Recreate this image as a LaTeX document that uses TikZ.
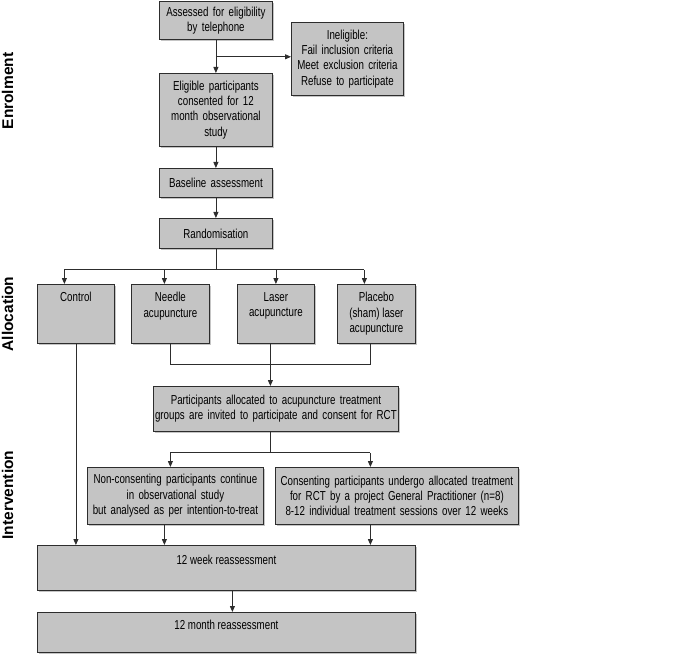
\documentclass[tikz,border=0pt]{standalone}
\usepackage{fontspec}
\setmainfont{Liberation Sans}[FakeStretch=0.75]
\newfontfamily\sidefont{Liberation Sans}
\usepackage{tikz}
\usetikzlibrary{arrows.meta,
	positioning,
	shadows}

\definecolor{boxfill}{RGB}{196,196,196}
\definecolor{boxline}{RGB}{45,45,45}
\newcommand{\toptext}[4][8]{\parbox[c][#2pt][t]{#3pt}{\centering\vspace*{#1pt}#4}}

\tikzset{
	flowbox/.style={draw=boxline, fill=boxfill, line width=0.8pt, inner sep=0pt,
		anchor=north west, align=center, font=\fontsize{13}{15.3}\selectfont,
		drop shadow={shadow xshift=2pt, shadow yshift=-2pt, fill=black!45, opacity=0.5}},
	arr/.style={draw=boxline, line width=0.8pt, -{Triangle[length=6pt,width=5pt]}},
	link/.style={draw=boxline, line width=0.8pt},
	phase/.style={rotate=90, font=\sidefont\bfseries\fontsize{15.5}{18}\selectfont}
}

\begin{document}
\begin{tikzpicture}[x=1pt,y=-1pt]
	\useasboundingbox (0,0) rectangle (685,655);

	% phases
	\node[phase] (enrol) at (7.5,91) {Enrolment};
	\node[phase] (alloc) at (7.5,314) {Allocation};
	\node[phase] (interv) at (7.5,495) {Intervention};

	% enrolment
	\node[flowbox, minimum width=113pt, minimum height=38pt, text width=113pt] (assess) at (159,1) {Assessed for eligibility\\by telephone};
	\node[flowbox, minimum width=112pt, minimum height=73pt, text width=112pt] (inelig) at (291,22) {Ineligible:\\Fail inclusion criteria\\Meet exclusion criteria\\Refuse to participate};
	\node[flowbox, minimum width=113pt, minimum height=73pt, text width=113pt] (elig) at (159,73) {Eligible participants\\consented for 12\\month observational\\study};
	\node[flowbox, minimum width=113pt, minimum height=29pt, text width=113pt] (base) at (159,168) {Baseline assessment};
	\node[flowbox, minimum width=113pt, minimum height=30pt, text width=113pt] (rand) at (159,218) {Randomisation};

	% allocation
	\node[flowbox, minimum width=77pt, minimum height=59pt] (ctrl) at (37,284) {\toptext{59}{77}{Control}};
	\node[flowbox, minimum width=78pt, minimum height=59pt] (needle) at (131,284) {\toptext{59}{78}{Needle\\acupuncture}};
	\node[flowbox, minimum width=77pt, minimum height=59pt] (laser) at (237,284) {\toptext{59}{77}{Laser\\acupuncture}};
	\node[flowbox, minimum width=78pt, minimum height=59pt] (placebo) at (337,284) {\toptext{59}{78}{Placebo\\(sham) laser\\acupuncture}};
	\node[flowbox, minimum width=245pt, minimum height=45pt, text width=245pt] (partic) at (153,386) {Participants allocated to acupuncture treatment\\groups are invited to participate and consent for RCT};

	% intervention
	\node[flowbox, minimum width=176pt, minimum height=57pt, text width=176pt] (noncons) at (87,467) {Non-consenting participants continue\\in observational study\\but analysed as per intention-to-treat};
	\node[flowbox, minimum width=243pt, minimum height=57pt, text width=243pt] (cons) at (275,467) {Consenting participants undergo allocated treatment\\for RCT by a project General Practitioner (n=8)\\8-12 individual treatment sessions over 12 weeks};
	\node[flowbox, minimum width=378pt, minimum height=45pt] (week) at (37,545) {\toptext[10]{45}{378}{12 week reassessment}};
	\node[flowbox, minimum width=378pt, minimum height=40pt] (month) at (37,612) {\toptext[8]{40}{378}{12 month reassessment}};

	% enrolment links
	\draw[arr] (assess) -- (elig);
	\coordinate (esplit) at ([yshift=-17pt]assess.south);
	\draw[arr] (esplit) -- (esplit -| inelig.west);
	\draw[arr] (elig) -- (base);
	\draw[arr] (base) -- (rand);

	% randomisation split
	\coordinate (rsplit) at ([yshift=-21pt]rand.south);
	\coordinate (cin) at ([xshift=-11.5pt]ctrl.north);
	\coordinate (nin) at ([xshift=-6pt]needle.north);
	\coordinate (lin) at (laser.north);
	\coordinate (pin) at ([xshift=-12pt]placebo.north);
	\draw[link] (rand) -- (rsplit);
	\draw[link] (cin |- rsplit) -- (pin |- rsplit);
	\foreach \n in {cin,nin,lin,pin}
		\draw[arr] (\n |- rsplit) -- (\n);

	% join of acupuncture groups
	\coordinate (ajoin) at ([yshift=-21pt]laser.south);
	\coordinate (nout) at (needle.south);
	\coordinate (lout) at ([xshift=-5.5pt]laser.south);
	\coordinate (pout) at ([xshift=-6pt]placebo.south);
	\draw[link] (nout) -- (nout |- ajoin) -- (pout |- ajoin) -- (pout);
	\draw[arr] (lout) -- (lout |- partic.north);

	% consent split
	\coordinate (psplit) at ([yshift=-21pt]partic.south);
	\coordinate (ncin) at ([xshift=-5pt]noncons.north);
	\coordinate (csin) at ([xshift=-26.5pt]cons.north);
	\draw[link] (lout |- partic.south) -- (lout |- psplit);
	\draw[link] (ncin |- psplit) -- (csin |- psplit);
	\draw[arr] (ncin |- psplit) -- (ncin);
	\draw[arr] (csin |- psplit) -- (csin);

	% reassessment
	\draw[arr] (ctrl) -- (ctrl |- week.north);
	\draw[arr] ([xshift=-11pt]noncons.south) -- ([xshift=-11pt]noncons.south |- week.north);
	\draw[arr] ([xshift=-26.5pt]cons.south) -- ([xshift=-26.5pt]cons.south |- week.north);
	\draw[arr] ([xshift=6pt]week.south) -- ([xshift=6pt]week.south |- month.north);

\end{tikzpicture}
\end{document}
